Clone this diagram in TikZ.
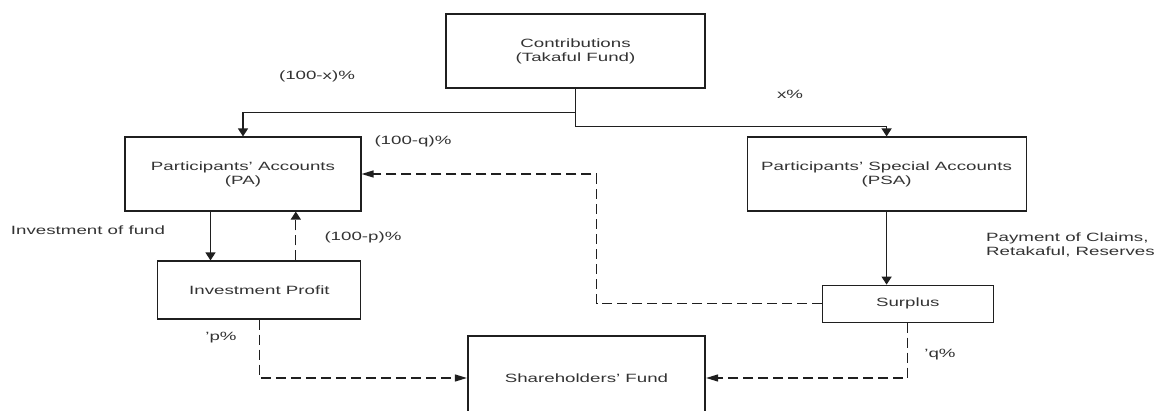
\documentclass[tikz,border=0pt]{standalone}
\usepackage{fontspec}
\setmainfont{Liberation Sans}[FakeStretch=1.56]
\usetikzlibrary{arrows.meta}
\definecolor{ink}{gray}{0.2}
\definecolor{rule}{gray}{0.12}
\begin{document}
\begin{tikzpicture}[x=1pt,y=-1pt,
  every node/.style={font=\fontsize{12}{14}\selectfont, text=ink},
  box/.style={draw=rule, line width=1.1pt, inner sep=0pt, align=center},
  heavybox/.style={box, line width=2.2pt},
  flow/.style={draw=rule, line width=1.2pt},
  vtip/.style={flow, -{Triangle[length=8pt,width=10pt]}},
  htip/.style={flow, -{Triangle[length=12pt,width=7pt]}},
  share/.style={dash pattern=on 10pt off 5pt},
  lbl/.style={inner sep=0pt, align=left}]
\useasboundingbox (0,0) rectangle (1165,411);

% boxes
\node[heavybox, minimum width=259pt, minimum height=74pt] (contrib) at (575.5,51.3)
  {Contributions\\(Takaful Fund)};
\node[box, minimum width=236pt, minimum height=74pt] (PA) at (243,174)
  {Participants’ Accounts\\(PA)};
\node[box, minimum width=279pt, minimum height=74pt] (PSA) at (886.6,174)
  {Participants’ Special Accounts\\(PSA)};
\node[box, minimum width=203pt, minimum height=58pt] (IP) at (259.4,290)
  {Investment Profit};
\node[box, minimum width=171pt, minimum height=37pt] (surplus) at (907.8,303.7)
  {Surplus};
\node[heavybox, minimum width=237pt, minimum height=84pt] (SH) at (586.5,378)
  {Shareholders’ Fund};

% helper levels and columns
\coordinate (split) at (0,112.7);
\coordinate (invcol) at (210.5,0);
\coordinate (retcol) at (295.8,0);
\coordinate (qcol) at (596.7,0);

% contributions split
\draw[vtip] (contrib.south) -- ++(0,37) -| (PSA.north);
\draw[vtip] (contrib.south |- split) -| (PA.north);

% investment loop
\draw[vtip] (invcol |- PA.south) -- (invcol |- IP.north);
\draw[vtip, share] (retcol |- IP.north) -- (retcol |- PA.south);

% claims and surplus
\draw[vtip] (PSA.south) -- (PSA.south |- surplus.north);
\draw[htip, share] (surplus.west) -| (qcol |- PA.east) -- (PA.east);

% shares to the shareholders
\draw[htip, share] (IP.south) |- (SH.west);
\draw[htip, share] (surplus.south) |- (SH.east);

% labels
\node[lbl] (lx) at (317,76) {(100-x)\%};
\node[lbl] (lxp) at (790,94) {x\%};
\node[lbl] (lq) at (413,141.7) {(100-q)\%};
\node[lbl] (linv) at (88,230.7) {Investment of fund};
\node[lbl] (lp) at (363,237.3) {(100-p)\%};
\node[lbl, anchor=west] (lpay) at (986,245) {Payment of Claims,\\Retakaful, Reserves};
\node[lbl] (lpp) at (221,337.3) {’p\%};
\node[lbl] (lqq) at (940,354.3) {’q\%};
\end{tikzpicture}
\end{document}
